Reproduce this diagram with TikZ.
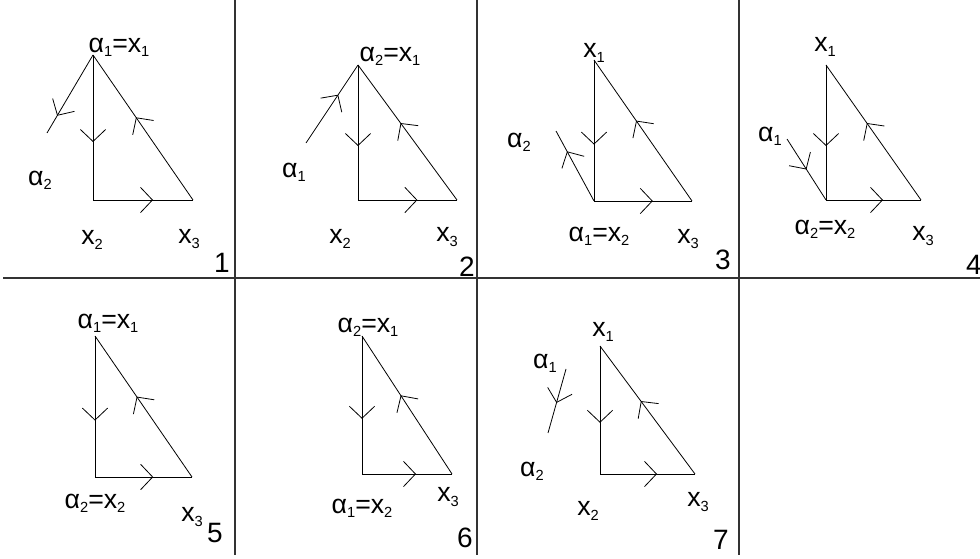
\documentclass[tikz,border=0pt]{standalone}
\usepackage{fontspec}
\setmainfont{Liberation Sans}
\usetikzlibrary{arrows.meta,decorations.markings}
\newcommand{\lo}[1]{\raisebox{-0.3ex}{\fontsize{11}{11}\selectfont#1}}
\tikzset{
  lbl/.style={font=\fontsize{20}{22}\selectfont, inner sep=0pt},
  num/.style={font=\fontsize{21}{24}\selectfont, inner sep=0pt},
  trline/.style={line width=0.6pt},
  fwd/.style={trline, postaction={decorate, decoration={markings,
      mark=at position #1 with {\arrow{Straight Barb[length=9pt,width=19pt,line width=0.6pt]}}}}},
  frame/.style={line width=1.2pt, black!80}
}
\begin{document}
\begin{tikzpicture}[x=0.75pt,y=-0.75pt]
\useasboundingbox (0,0) rectangle (980,559);
% frames
    \foreach \x in {235,477,739}{
        \draw[frame] (\x,0) -- (\x,555);
    }
    \draw[frame] (3,278) -- (980,278);
% triangles
    \foreach \n/\x/\t/\b/\r in {1/93/55/200/193,2/358/65/200/457,3/594/60/201/692,
        4/826/65/200/921,5/95/336/477/192,6/362/336/474/452,7/600/346/474/695}{
        \coordinate (x1-\n) at (\x,\t);
        \coordinate (x2-\n) at (\x,\b);
        \coordinate (x3-\n) at (\r,\b);
        \draw[fwd=0.6] (x1-\n) -- (x2-\n);
        \draw[fwd=0.6] (x2-\n) -- (x3-\n);
        \draw[fwd=0.57] (x3-\n) -- (x1-\n);
    }
% 1
    \node[lbl] (t1-1) at (119,47) {α\lo1=x\lo1};
    \node[lbl] (t2-1) at (40,180) {α\lo2};
    \node[lbl] (t3-1) at (92,240) {x\lo2};
    \node[lbl] (t4-1) at (189,239) {x\lo3};
    \node[num] (n1) at (222,263) {1};
    \coordinate (a2-1) at (47,133);
    \draw[fwd=0.78] (x1-1) -- (a2-1);
% 2
    \node[lbl] (t1-2) at (390,56) {α\lo2=x\lo1};
    \node[lbl] (t2-2) at (294,172) {α\lo1};
    \node[lbl] (t3-2) at (340,239) {x\lo2};
    \node[lbl] (t4-2) at (447,237) {x\lo3};
    \node[num] (n2) at (467,267) {2};
    \coordinate (a1-2) at (306,143);
    \draw[fwd=0.62] (a1-2) -- (x1-2);
% 3
    \node[lbl] (t1-3) at (594,53) {x\lo1};
    \node[lbl] (t2-3) at (519,142) {α\lo2};
    \node[lbl] (t3-3) at (599,236) {α\lo1=x\lo2};
    \node[lbl] (t4-3) at (688,239) {x\lo3};
    \node[num] (n3) at (723,260) {3};
    \coordinate (a2-3) at (556,131);
    \draw[fwd=0.71] (x2-3) -- (a2-3);
% 4
    \node[lbl] (t1-4) at (825,47) {x\lo1};
    \node[lbl] (t2-4) at (770,136) {α\lo1};
    \node[lbl] (t3-4) at (825,229) {α\lo2=x\lo2};
    \node[lbl] (t4-4) at (923,236) {x\lo3};
    \node[num] (n4) at (974,265) {4};
    \coordinate (a1-4) at (787,139);
    \draw[fwd=0.5] (a1-4) -- (x2-4);
% 5
    \node[lbl] (t1-5) at (108,323) {α\lo1=x\lo1};
    \node[lbl] (t3-5) at (95,503) {α\lo2=x\lo2};
    \node[lbl] (t4-5) at (192,517) {x\lo3};
    \node[num] (n5) at (215,533) {5};
% 6
    \node[lbl] (t1-6) at (368,327) {α\lo2=x\lo1};
    \node[lbl] (t3-6) at (362,508) {α\lo1=x\lo2};
    \node[lbl] (t4-6) at (448,497) {x\lo3};
    \node[num] (n6) at (465,538) {6};
% 7
    \node[lbl] (t1-7) at (603,332) {x\lo1};
    \node[lbl] (t2-7) at (545,363) {α\lo1};
    \node[lbl] (t5-7) at (532,471) {α\lo2};
    \node[lbl] (t3-7) at (588,511) {x\lo2};
    \node[lbl] (t4-7) at (698,502) {x\lo3};
    \node[num] (n7) at (721,540) {7};
    \coordinate (b1-7) at (566,369);
    \coordinate (b2-7) at (548,433);
    \draw[fwd=0.53] (b1-7) -- (b2-7);
\end{tikzpicture}
\end{document}
